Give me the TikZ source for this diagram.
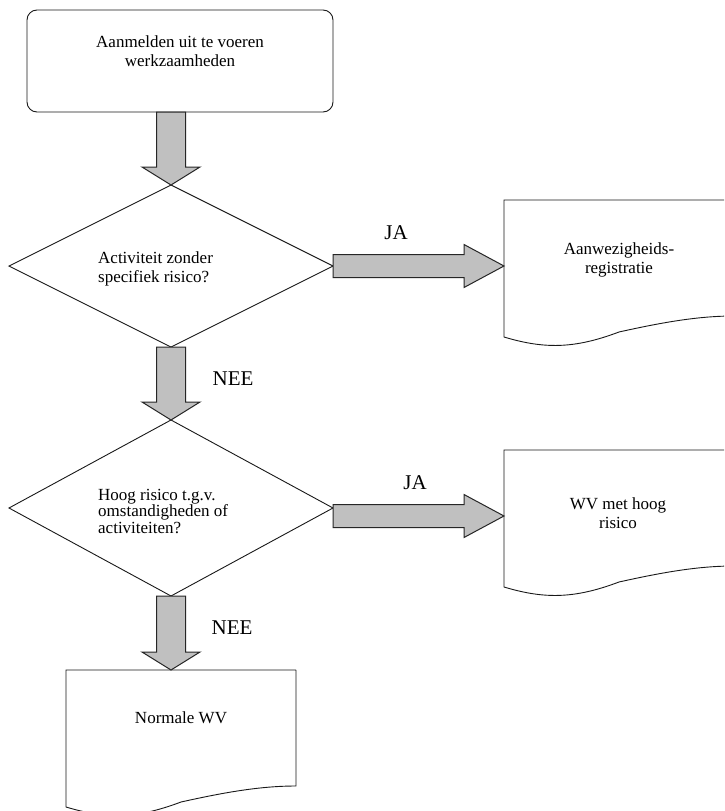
\documentclass[tikz,border=0pt]{standalone}
\usepackage{fontspec}
\setmainfont{Liberation Serif}
\usetikzlibrary{shapes.geometric,calc}
\definecolor{arrowgrey}{HTML}{C0C0C0}
\newcommand\vblock[2]{\draw[blk] let \p1=(#1), \p2=(#2) in
  (\x1-14.5pt,\y1) -- (\x1+14.5pt,\y1) -- (\x1+14.5pt,\y2+18pt) -- (\x1+29pt,\y2+18pt)
  -- (\x1,\y2) -- (\x1-29pt,\y2+18pt) -- (\x1-14.5pt,\y2+18pt) -- cycle;}
\newcommand\hblock[2]{\draw[blk] let \p1=(#1), \p2=(#2) in
  (\x1,\y2+11.5pt) -- (\x2-40pt,\y2+11.5pt) -- (\x2-40pt,\y2+21.5pt) -- (\x2,\y2)
  -- (\x2-40pt,\y2-21.5pt) -- (\x2-40pt,\y2-11.5pt) -- (\x1,\y2-11.5pt) -- cycle;}
\newcommand\docoutline[1]{\draw[line] (#1.north east) -- (#1.north west) -- (#1.south west)
  .. controls ($(#1.south west)+(40,12)$) and ($(#1.south west)+(70,12)$) .. ($(#1.south west)+(115,-5)$)
  .. controls ($(#1.south west)+(160,-15)$) and ($(#1.south west)+(195,-21)$) .. ($(#1.south west)+(230,-21)$)
  -- (#1.north east);}
\begin{document}
\begin{tikzpicture}[x=1pt,y=-1pt,
  line/.style={draw=black!90, line width=0.9pt},
  blk/.style={draw=black!85, fill=arrowgrey, line width=1pt},
  txt/.style={font=\fontsize{17}{18.5}\selectfont, align=center, inner sep=0pt},
  lbl/.style={font=\fontsize{21}{24}\selectfont, inner sep=0pt},
  docbox/.style={minimum width=230pt, minimum height=137pt, anchor=north west, inner sep=0pt, outer sep=0pt}
]
\clip (0,0) rectangle (724,811);
\fill[white] (0,0) rectangle (724,811);

% shapes
\node[line, rounded corners=10pt, minimum width=306pt, minimum height=102pt, anchor=north west, outer sep=0pt] (start) at (27,10) {};
\node[diamond, line, minimum width=324pt, minimum height=162pt, inner sep=0pt, outer sep=0pt] (q1) at (171,266) {};
\node[diamond, line, minimum width=324pt, minimum height=176pt, inner sep=0pt, outer sep=0pt] (q2) at (171,508) {};
\node[docbox] (doc1) at (504,200) {};
\node[docbox] (doc2) at (504,450) {};
\node[docbox] (doc3) at (66,670) {};
\docoutline{doc1}
\docoutline{doc2}
\docoutline{doc3}
\coordinate (in1) at (504,266);
\coordinate (in2) at (504,516);

% block arrows
\vblock{start.south -| q1.north}{q1.north}
\vblock{q1.south}{q2.north}
\vblock{q2.south}{doc3.north -| q2.south}
\hblock{q1.east}{in1}
\hblock{q2.east}{in2}

% texts
\node[txt] (t0) at (180,51) {Aanmelden uit te voeren\\werkzaamheden};
\node[txt, align=left, anchor=west] (t1) at (98,269) {Activiteit zonder\\specifiek risico?};
\node[txt, align=left, anchor=west, font=\fontsize{17}{16.5}\selectfont] (t2) at (98,511) {Hoog risico t.g.v.\\omstandigheden of\\activiteiten?};
\node[txt] (t3) at (619,260) {Aanwezigheids-\\registratie};
\node[txt] (t4) at (618,513) {WV met hoog\\risico};
\node[txt] (t5) at (181,718) {Normale WV};

% labels
\node[lbl] (ja1) at (396,233) {JA};
\node[lbl] (ja2) at (415,483) {JA};
\node[lbl] (nee1) at (233,379) {NEE};
\node[lbl] (nee2) at (232,628) {NEE};
\end{tikzpicture}
\end{document}
